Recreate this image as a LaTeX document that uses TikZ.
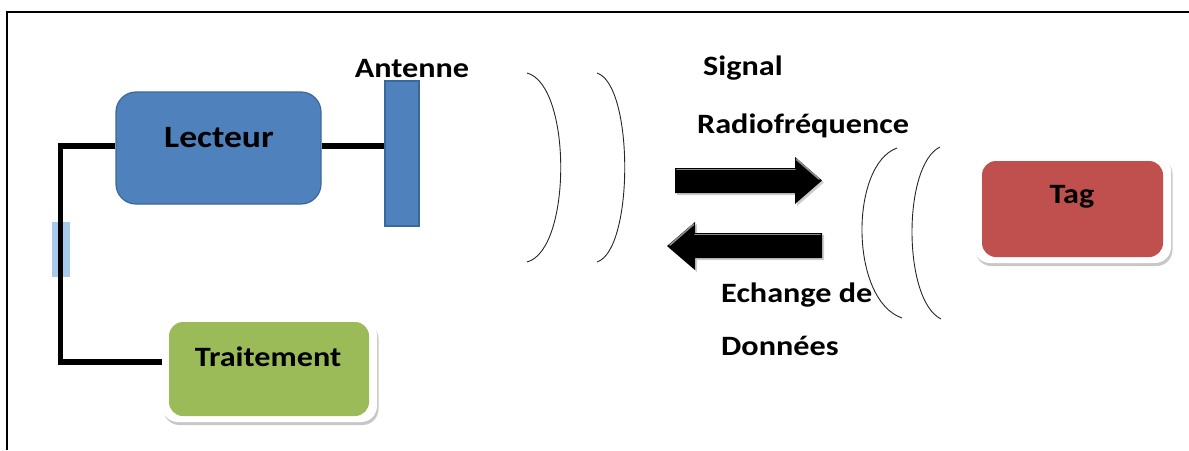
\documentclass[tikz,border=0pt]{standalone}
\usepackage{fontspec}
\newfontfamily\lblfont{Carlito}[FakeStretch=1.15]
\usetikzlibrary{shadows}
\definecolor{readerblue}{HTML}{4F81BD}
\definecolor{readeredge}{HTML}{3A679C}
\definecolor{procgreen}{HTML}{9BBB59}
\definecolor{tagred}{HTML}{C0504D}
\definecolor{portblue}{HTML}{A7CAEC}
\begin{document}
\begin{tikzpicture}[x=1pt,y=-1pt,
  bluebox/.style={draw=readeredge, line width=1.2pt, fill=readerblue, rounded corners=20pt, inner sep=0pt},
  glowbox/.style={fill=white, rounded corners=16pt, inner sep=0pt,
    drop shadow={shadow xshift=1.5pt, shadow yshift=-3pt, opacity=0.22, fill=black}},
  fillbox/.style={rounded corners=14pt, inner sep=0pt},
  lbl/.style={font=\lblfont\bfseries\fontsize{28}{28}\selectfont, inner sep=0pt, anchor=base},
  lblw/.style={lbl, anchor=base west},
  wire/.style={line width=5.5pt},
  wave/.style={line width=0.9pt, black!85},
  bigarrow/.style={fill=black,
    drop shadow={shadow xshift=2pt, shadow yshift=-2pt, opacity=0.2, fill=black}},
  bevel/.style={line width=1.6pt, black!45, line cap=round}]
\useasboundingbox (0,0) rectangle (1189,450);
% frame
\draw[line width=1.5pt] (7,450) -- (7,12) -- (1189,12);

% reader side
\node[fill=portblue, inner sep=0pt, minimum width=18pt, minimum height=55pt] (port) at (61,249.5) {};
\node[bluebox, minimum width=205pt, minimum height=112pt] (lecteur) at (218.5,148) {};
\node[bluebox, rounded corners=0pt, minimum width=34pt, minimum height=145pt] (antenne) at (402,153.5) {};
\node[glowbox, minimum width=215pt, minimum height=102pt] (traitement) at (269.5,371) {};
\node[fillbox, fill=procgreen, minimum width=200pt, minimum height=94pt] (traitementfill) at (269,369) {};

\coordinate (bendtop) at (60.5,146);
\coordinate (bendbot) at (60.5,362);
\draw[wire] (lecteur.west |- bendtop) -- (bendtop) -- (bendbot) -- (traitement.west |- bendbot);
\draw[wire] (lecteur.east |- bendtop) -- (antenne.west |- bendtop);

\node[lbl, font=\lblfont\bfseries\fontsize{31}{31}\selectfont] (lecteurtxt) at (219,147) {Lecteur};
\node[lbl] (antennetxt) at (412,77) {Antenne};
\node[lbl] (traitementtxt) at (268,366) {Traitement};

% radio waves
\draw[wave] (527,73) .. controls (572,85) and (572,250) .. (527,262);
\draw[wave] (597,73) .. controls (634,85) and (634,250) .. (597,262);
\draw[wave] (897,148) .. controls (849.5,165) and (849.5,300) .. (902,318);
\draw[wave] (940,147) .. controls (902.5,165) and (902.5,300) .. (941,319);

% exchange arrows with a light bevel on their upper edges
\fill[bigarrow] (675,168) -- (795,168) -- (795,157) -- (822,180.5) -- (795,204) -- (795,193) -- (675,193) -- cycle;
\draw[bevel] (677,169.5) -- (795,169.5);
\draw[bevel] (796.5,159.5) -- (819,179);
\fill[bigarrow] (822,233) -- (695,233) -- (695,222) -- (667,246) -- (695,270) -- (695,258) -- (822,258) -- cycle;
\draw[bevel] (820,234.5) -- (695,234.5);
\draw[bevel] (693.5,224.5) -- (670,245);

\node[lblw] (signaltxt) at (703,75) {Signal};
\node[lblw] (rftxt) at (697,133) {Radiofréquence};
\node[lblw] (echangetxt) at (721,302) {Echange de};
\node[lblw] (donneestxt) at (721,355) {Données};

% tag
\node[glowbox, minimum width=197pt, minimum height=108pt] (tag) at (1072.5,209) {};
\node[fillbox, fill=tagred, minimum width=181pt, minimum height=96pt] (tagfill) at (1072.5,209) {};
\node[lbl] (tagtxt) at (1072,203) {Tag};
\end{tikzpicture}
\end{document}
